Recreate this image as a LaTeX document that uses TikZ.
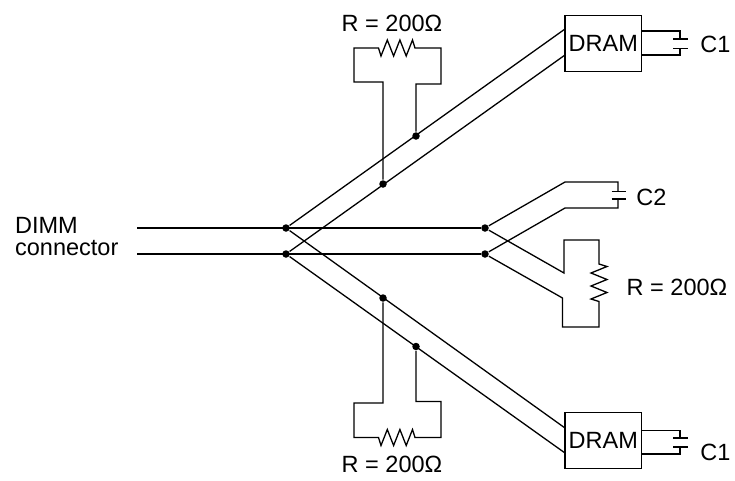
\documentclass[tikz,border=0pt]{standalone}
\usepackage{fontspec}
\setmainfont{Liberation Sans}
\newcommand{\zigh}{-- ++(-2.5,-8) -- ++(-6.3,16) -- ++(-6.3,-16) -- ++(-6.3,16) -- ++(-6.3,-16) -- ++(-6.3,16) -- ++(-2.5,-8)}
\newcommand{\zigv}{-- ++(8,2.5) -- ++(-16,6.5) -- ++(16,6.5) -- ++(-16,6.5) -- ++(16,6.5) -- ++(-16,6.5) -- ++(8,2.5)}
\begin{document}
\begin{tikzpicture}[x=1pt,y=-1pt,line width=1.3pt,
        label/.style={font=\fontsize{23.5}{23.5}\selectfont,inner sep=0pt},
        junction/.style={circle,fill=black,inner sep=0pt,minimum size=7.5pt},
        dram/.style={draw,minimum width=76.5pt,minimum height=56pt,inner sep=0pt,font=\fontsize{23.5}{23.5}\selectfont}]
        \useasboundingbox (0,0) rectangle (735,480);
        % junctions
        \node[junction] (splitA) at (286,228) {};
        \node[junction] (splitB) at (286,254) {};
        \node[junction] (midA) at (485,228) {};
        \node[junction] (midB) at (485,254) {};
        \node[junction] (upA) at (416,136) {};
        \node[junction] (upB) at (383,184) {};
        \node[junction] (lowA) at (383,298) {};
        \node[junction] (lowB) at (416,346.5) {};
        % connector and the two memory chips
        \coordinate (inA) at (137,228);
        \coordinate (inB) at (137,254);
        \node[dram] (dramUp) at (603.3,43.5) {DRAM};
        \node[dram] (dramLow) at (603.3,440.5) {DRAM};
        \coordinate (dramUpA) at (565,29);
        \coordinate (dramUpB) at (565,55);
        \coordinate (dramLowA) at (565,428);
        \coordinate (dramLowB) at (565,453);
        \draw (inA) -- (midA);
        \draw (inB) -- (midB);
        \draw (splitA) -- (dramUpA);
        \draw (splitB) -- (dramUpB);
        \draw (splitA) -- (dramLowA);
        \draw (splitB) -- (dramLowB);
        % upper resistor
        \draw (upA) |- (441,84) |- (415,48) \zigh -| (354,82) -| (upB);
        % lower resistor
        \draw (lowB) |- (441,401.5) |- (415,437.5) \zigh -| (354,403) -| (lowA);
        % middle capacitor
        \draw (midA) -- (565,182) -| (618,191.7);
        \draw (midB) -- (565,208) -| (618,199);
        \draw (611.5,191.7) -- (626,191.7);
        \draw (611.5,199) -- (626,199);
        % middle resistor
        \draw (midA) -- (564,273) |- (599,240) -- (599,264) \zigv -- (599,327) -| (562.5,298) -- (midB);
        % capacitors on the chips
        \draw (dramUp.east |- 0,31) -| (680,39);
        \draw (dramUp.east |- 0,55) -| (680,48.3);
        \draw (673,39) -- (688,39);
        \draw (673,48.3) -- (688,48.3);
        \draw (dramLow.east |- 0,430.7) -| (680,438);
        \draw (dramLow.east |- 0,454) -| (680,447);
        \draw (673,438) -- (688,438);
        \draw (673,447) -- (688,447);
        % text
        \node[label] (resUp) at (392,23) {R = 200Ω};
        \node[label] (resLow) at (392,464) {R = 200Ω};
        \node[label] (resMid) at (677,287) {R = 200Ω};
        \node[label] (capUp) at (715.5,44) {C1};
        \node[label] (capMid) at (651.5,197) {C2};
        \node[label] (capLow) at (715.5,452) {C1};
        \node[label,anchor=north west,align=left,font=\fontsize{23.5}{22}\selectfont] (dimm) at (14.5,216.5) {DIMM\\connector};
\end{tikzpicture}
\end{document}
